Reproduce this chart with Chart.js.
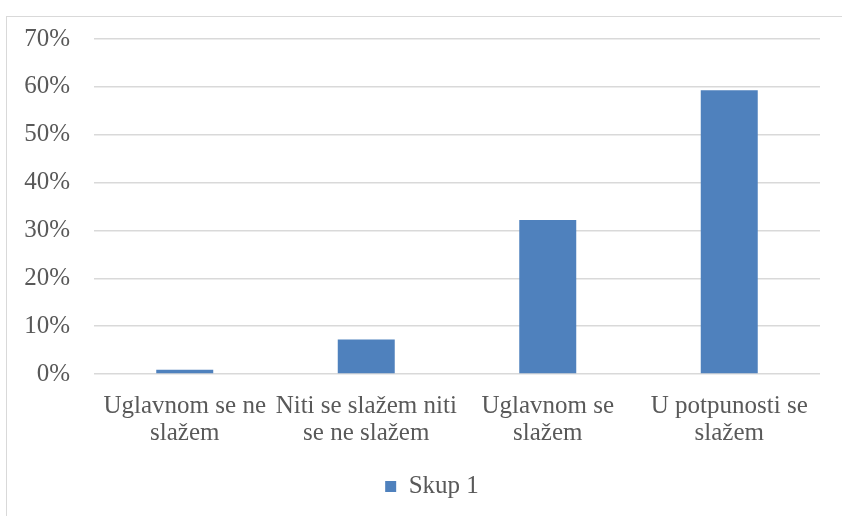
<!DOCTYPE html>
<html>
<head>
<meta charset="utf-8">
<script src="https://cdn.jsdelivr.net/npm/chart.js@4.4.1/dist/chart.umd.min.js"></script>
<style>
  html, body { margin: 0; padding: 0; background: #fff; overflow: hidden; }
  #wrap { position: relative; width: 842px; height: 516px; }
  #frame { position: absolute; left: 6px; top: 16px; width: 900px; height: 600px; border: 1px solid #d9d9d9; box-sizing: border-box; }
  #cv { position: absolute; left: 0; top: 0; }
</style>
</head>
<body>
<div id="wrap">
  <div id="frame"></div>
  <canvas id="cv" width="842" height="516"></canvas>
</div>
<script>
// ============================================================
// DATA
// ============================================================
var categories = [
  ['Uglavnom se ne', 'slažem'],
  ['Niti se slažem niti', 'se ne slažem'],
  ['Uglavnom se', 'slažem'],
  ['U potpunosti se', 'slažem']
];
var seriesName = 'Skup 1';
var seriesValues = [0.009, 0.072, 0.322, 0.593];
var yTicks = [0, 0.1, 0.2, 0.3, 0.4, 0.5, 0.6, 0.7];

var FONT = '"Liberation Serif", "Times New Roman", serif';
var TEXT = '#595959';

function pct(v) { return Math.round(v * 100) + '%'; }

// nudge legend right so it sits where the reference has it
var legendShift = {
  id: 'legendShift',
  afterLayout: function(chart) {
    if (!chart.legend) return;
    chart.legend.left += 22;
    chart.legend.right += 22;
  }
};

var ctx = document.getElementById('cv').getContext('2d');
var chart = new Chart(ctx, {
  type: 'bar',
  data: {
    labels: categories,
    datasets: [{
      label: seriesName,
      data: seriesValues,
      backgroundColor: '#4f81bd',
      borderWidth: 0,
      barPercentage: 0.314,
      categoryPercentage: 1
    }]
  },
  plugins: [legendShift],
  options: {
    responsive: false,
    animation: false,
    devicePixelRatio: 1,
    layout: { padding: { top: 39, right: 22, bottom: 7, left: 0 } },
    plugins: {
      tooltip: { enabled: false },
      legend: {
        position: 'bottom',
        labels: {
          boxWidth: 11,
          boxHeight: 11,
          color: TEXT,
          font: { family: FONT, size: 25, lineHeight: 1.2 }
        }
      }
    },
    scales: {
      x: {
        grid: { display: false },
        border: { display: false },
        ticks: {
          color: TEXT,
          padding: 11,
          maxRotation: 0,
          autoSkip: false,
          font: { family: FONT, size: 25, lineHeight: 1.08 }
        },
        afterFit: function(s) { s.height = 90; }
      },
      y: {
        min: 0,
        max: 0.7,
        afterBuildTicks: function(s) { s.ticks = yTicks.map(function(v) { return { value: v }; }); },
        grid: { color: '#d9d9d9', lineWidth: 1.5, drawTicks: false },
        border: { display: false },
        ticks: {
          color: TEXT,
          padding: 24,
          font: { family: FONT, size: 25 },
          callback: function(v) { return pct(v); }
        },
        afterFit: function(s) { s.width = 94; }
      }
    }
  }
});
</script>
</body>
</html>
